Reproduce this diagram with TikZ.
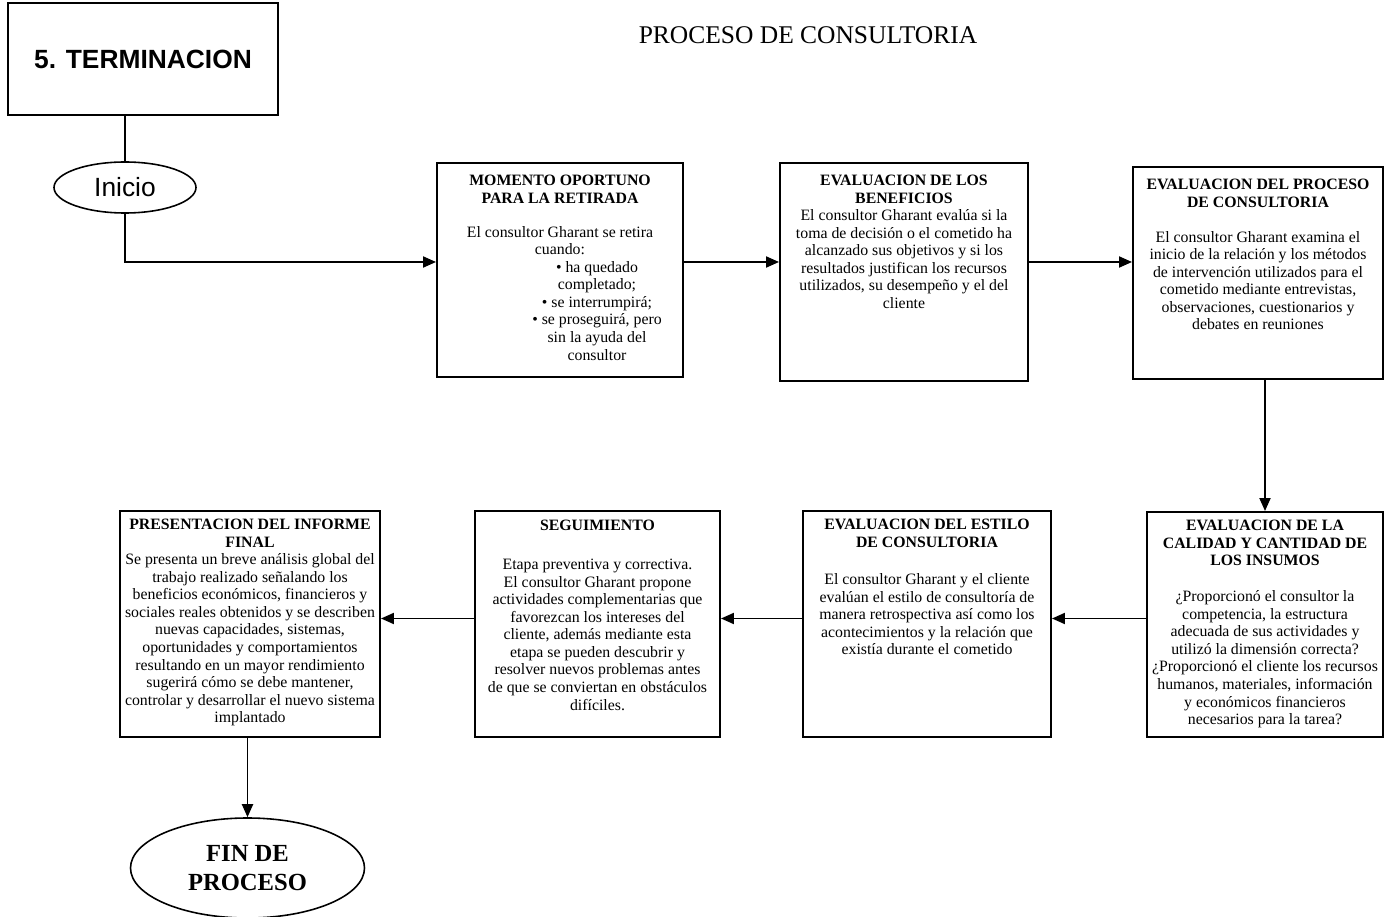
\documentclass[tikz,border=0pt]{standalone}
\usepackage{fontspec}
\setmainfont{Liberation Serif}
\newfontfamily\arialfont{Liberation Sans}
\usepackage{tikz}
\usetikzlibrary{
    shapes.geometric,
    arrows.meta,
    positioning,
    calc
}
\newcommand{\boxtext}[4]{\parbox[c][#2][t]{#1}{\centering\vspace*{#3}#4\par}}

\begin{document}
\begin{tikzpicture}[
            font=\fontsize{9}{10}\selectfont,
            box/.style={draw, line width=1.1pt, inner sep=0pt},
            phase/.style={draw, line width=1.1pt, minimum width=5.4cm, minimum height=2.24cm,
                          font=\arialfont\bfseries\fontsize{15}{17}\selectfont},
            title/.style={font=\fontsize{14.5}{16}\selectfont},
            startend/.style={draw, ellipse, line width=0.9pt, inner sep=0pt},
            line/.style={line width=1.1pt},
            arr/.style={-{Triangle[length=2.6mm,width=2.2mm]}, line width=1.1pt}
        ]
            \useasboundingbox (0, 0) rectangle (27.68, -18.34);

            \node[title] (titulo) at (16.16, -0.70) {PROCESO DE CONSULTORIA};

            \node[phase] (term) at (2.86, -1.18) {5. TERMINACION};

            \node[startend, minimum width=2.84cm, minimum height=1.02cm,
                  font=\arialfont\fontsize{15}{17}\selectfont] (ini) at (2.5, -3.75) {Inicio};

            \node[box] (m1) at (11.20, -5.40)
                {\boxtext{4.92cm}{4.28cm}{0.24cm}{\textbf{MOMENTO OPORTUNO\\PARA LA RETIRADA}\\[0.33cm]
                 El consultor Gharant se retira\\
                 cuando:\hspace*{0.52cm}\\
                 \hspace*{1.48cm}• ha quedado\\
                 \hspace*{1.48cm}completado;\\
                 \hspace*{1.48cm}• se interrumpirá;\\
                 \hspace*{1.48cm}• se proseguirá, pero\\
                 \hspace*{1.48cm}sin la ayuda del\\
                 \hspace*{1.48cm}consultor}};

            \node[box] (m2) at (18.08, -5.44)
                {\boxtext{4.96cm}{4.36cm}{0.24cm}{\textbf{EVALUACION DE LOS\\BENEFICIOS}\\
                 El consultor Gharant evalúa si la\\
                 toma de decisión o el cometido ha\\
                 alcanzado sus objetivos y si los\\
                 resultados justifican los recursos\\
                 utilizados, su desempeño y el del\\
                 cliente}};

            \node[box] (m3) at (25.16, -5.46)
                {\boxtext{5.0cm}{4.24cm}{0.24cm}{\textbf{EVALUACION DEL PROCESO\\DE CONSULTORIA}\\[0.35cm]
                 El consultor Gharant examina el\\
                 inicio de la relación y los métodos\\
                 de intervención utilizados para el\\
                 cometido mediante entrevistas,\\
                 observaciones, cuestionarios y\\
                 debates en reuniones}};

            \node[box] (m4) at (25.30, -12.49)
                {\boxtext{4.72cm}{4.5cm}{0.16cm}{\textbf{EVALUACION DE LA\\CALIDAD Y CANTIDAD DE\\LOS INSUMOS}\\[0.37cm]
                 ¿Proporcionó el consultor la\\
                 competencia, la estructura\\
                 adecuada de sus actividades y\\
                 utilizó la dimensión correcta?\\
                 ¿Proporcionó el cliente los recursos\\
                 humanos, materiales, información\\
                 y económicos financieros\\
                 necesarios para la tarea?}};

            \node[box] (m5) at (18.54, -12.48)
                {\boxtext{4.96cm}{4.52cm}{0.16cm}{\textbf{EVALUACION DEL ESTILO\\DE CONSULTORIA}\\[0.4cm]
                 El consultor Gharant y el cliente\\
                 evalúan el estilo de consultoría de\\
                 manera retrospectiva así como los\\
                 acontecimientos y la relación que\\
                 existía durante el cometido}};

            \node[box] (m6) at (11.95, -12.48)
                {\boxtext{4.9cm}{4.52cm}{0.18cm}{\textbf{SEGUIMIENTO}\\[0.43cm]
                 Etapa preventiva y correctiva.\\
                 El consultor Gharant propone\\
                 actividades complementarias que\\
                 favorezcan los intereses del\\
                 cliente, además mediante esta\\
                 etapa se pueden descubrir y\\
                 resolver nuevos problemas antes\\
                 de que se conviertan en obstáculos\\
                 difíciles.}};

            \node[box] (m7) at (5.0, -12.48)
                {\boxtext{5.2cm}{4.52cm}{0.16cm}{\textbf{PRESENTACION DEL INFORME\\FINAL}\\
                 Se presenta un breve análisis global del\\
                 trabajo realizado señalando los\\
                 beneficios económicos, financieros y\\
                 sociales reales obtenidos y se describen\\
                 nuevas capacidades, sistemas,\\
                 oportunidades y comportamientos\\
                 resultando en un mayor rendimiento\\
                 sugerirá cómo se debe mantener,\\
                 controlar y desarrollar el nuevo sistema\\
                 implantado}};

            \node[startend, minimum width=4.68cm, minimum height=2.0cm, align=center,
                  font=\bfseries\fontsize{14}{17}\selectfont] (fin) at (4.95, -17.36) {FIN DE\\PROCESO};

            \draw[line] (ini |- term.south) -- (ini.north);
            \draw[arr] (ini.south) |- ([yshift=1.6mm]m1.west);
            \draw[arr] ([yshift=1.6mm]m1.east) -- ([yshift=1.6mm]m1.east -| m2.west);
            \draw[arr] ([yshift=1.6mm]m1.east -| m2.east) -- ([yshift=1.6mm]m1.east -| m3.west);
            \draw[arr] (m3.south -| m4.north) -- (m4.north);
            \draw[arr] ([yshift=1.2mm]m4.west) -- ([yshift=1.2mm]m4.west -| m5.east);
            \draw[arr] ([yshift=1.2mm]m4.west -| m5.west) -- ([yshift=1.2mm]m4.west -| m6.east);
            \draw[arr] ([yshift=1.2mm]m4.west -| m6.west) -- ([yshift=1.2mm]m4.west -| m7.east);
            \draw[arr] (m7.south -| fin.north) -- (fin.north);
        \end{tikzpicture}
\end{document}
